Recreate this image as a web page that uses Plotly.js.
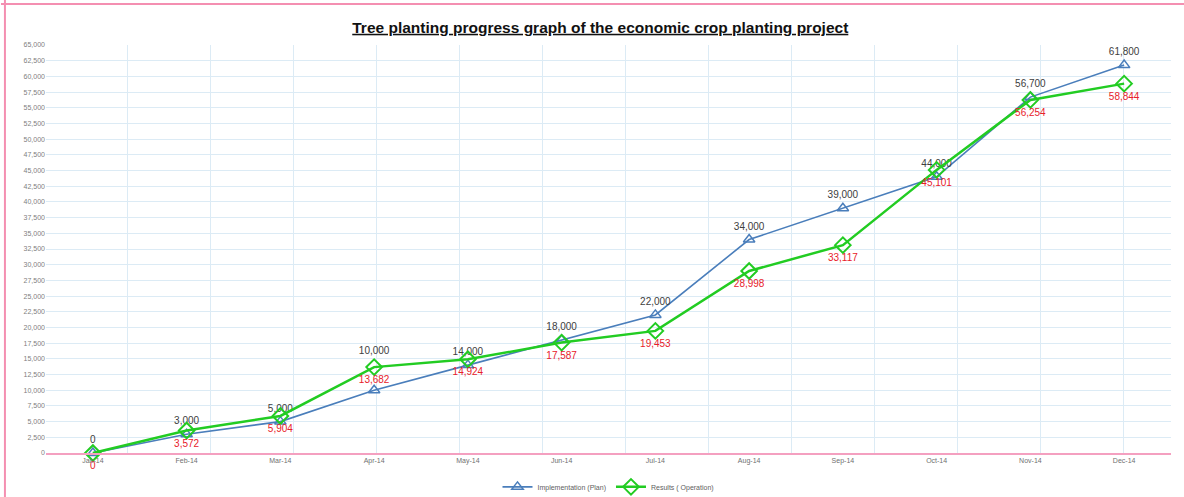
<!DOCTYPE html>
<html>
<head>
<meta charset="utf-8">
<script src="https://cdn.plot.ly/plotly-3.0.1.min.js"></script>
<style>
html,body{margin:0;padding:0;background:#fff;}
#chart{width:1184px;height:497px;}
</style>
</head>
<body>
<div id="chart"></div>
<script>
const months = ["Jan-14","Feb-14","Mar-14","Apr-14","May-14","Jun-14","Jul-14","Aug-14","Sep-14","Oct-14","Nov-14","Dec-14"];
const planValues = [0, 3000, 5000, 10000, 14000, 18000, 22000, 34000, 39000, 44000, 56700, 61800];
const actualValues = [0, 3572, 5904, 13682, 14924, 17587, 19453, 28998, 33117, 45101, 56254, 58844];
const planName = "Implementation (Plan)";
const actualName = "Results ( Operation)";
const chartTitle = "Tree planting progress graph of the economic crop planting project";

// label templates: the Apr plan label sits higher, clear of the green marker
const planLabelTpl = months.map((m, i) => i === 3 ? "%{y:,}<br> <br> " : "%{y:,}");

const plan = {
  x: months, y: planValues, name: planName, type: "scatter",
  mode: "lines+markers+text",
  line: {color: "#4a7ebb", width: 1.6},
  marker: {symbol: "triangle-up-open", size: 10, color: "#4a7ebb", line: {width: 1.5, color: "#4a7ebb"}},
  texttemplate: planLabelTpl, textposition: "top center",
  textfont: {family: "Liberation Sans, Arial, sans-serif", size: 10, color: "#404040"},
  cliponaxis: false
};
const actual = {
  x: months, y: actualValues, name: actualName, type: "scatter",
  mode: "lines+markers+text",
  line: {color: "#22cc22", width: 2.5},
  marker: {symbol: "diamond-open", size: 12, color: "#22cc22", line: {width: 2, color: "#22cc22"}},
  texttemplate: "%{y:,}", textposition: "bottom center",
  textfont: {family: "Liberation Sans, Arial, sans-serif", size: 10, color: "#e8202a"},
  cliponaxis: false
};

const layout = {
  width: 1184, height: 497,
  margin: {l: 46, r: 13, t: 45, b: 44, autoexpand: false},
  paper_bgcolor: "#ffffff", plot_bgcolor: "#ffffff",
  font: {family: "Liberation Sans, Arial, sans-serif", color: "#808080", size: 7},
  title: {text: "<u><b>" + chartTitle + "</b></u>", x: 0.507, xanchor: "center", y: 0.945, yanchor: "middle",
          font: {family: "Liberation Sans, Arial, sans-serif", size: 15.5, color: "#111111"}},
  xaxis: {
    type: "category", range: [-0.5, 11.5], showgrid: false,
    showline: true, linecolor: "#f4a0c0", linewidth: 1.5,
    ticks: "", tickfont: {size: 7, color: "#707070"}, fixedrange: true
  },
  xaxis2: {
    overlaying: "x", type: "linear", range: [46, 1171], showgrid: true,
    gridcolor: "#dcebf5", gridwidth: 1, tick0: 44, dtick: 83,
    showticklabels: false, ticks: "", showline: false, zeroline: false, side: "bottom"
  },
  yaxis: {
    range: [0, 65000], dtick: 2500, tickformat: ",", showgrid: true,
    gridcolor: "#dcebf5", gridwidth: 1, zeroline: false, showline: false,
    ticks: "", ticklen: 0, tickfont: {size: 7, color: "#808080"}, fixedrange: true
  },
  showlegend: true,
  legend: {orientation: "h", x: 0.5, xanchor: "center", y: -0.083, yanchor: "middle",
           font: {size: 7, color: "#606060"}, bgcolor: "rgba(0,0,0,0)"},
  shapes: [
    {type: "line", xref: "paper", yref: "paper", x0: -0.0365, x1: -0.0365, y0: -0.11, y1: 1.11,
     line: {color: "#f48fb1", width: 2}},
    {type: "line", xref: "paper", yref: "paper", x0: -0.04, x1: 1.02, y0: 1.1005, y1: 1.1005,
     line: {color: "#f48fb1", width: 2}}
  ]
};

const gridTrace = {x: [46, 1171], y: [0, 0], xaxis: "x2", yaxis: "y", mode: "markers",
  marker: {opacity: 0}, showlegend: false, hoverinfo: "skip"};

Plotly.newPlot("chart", [gridTrace, plan, actual], layout, {displayModeBar: false, staticPlot: true});
</script>
</body>
</html>
